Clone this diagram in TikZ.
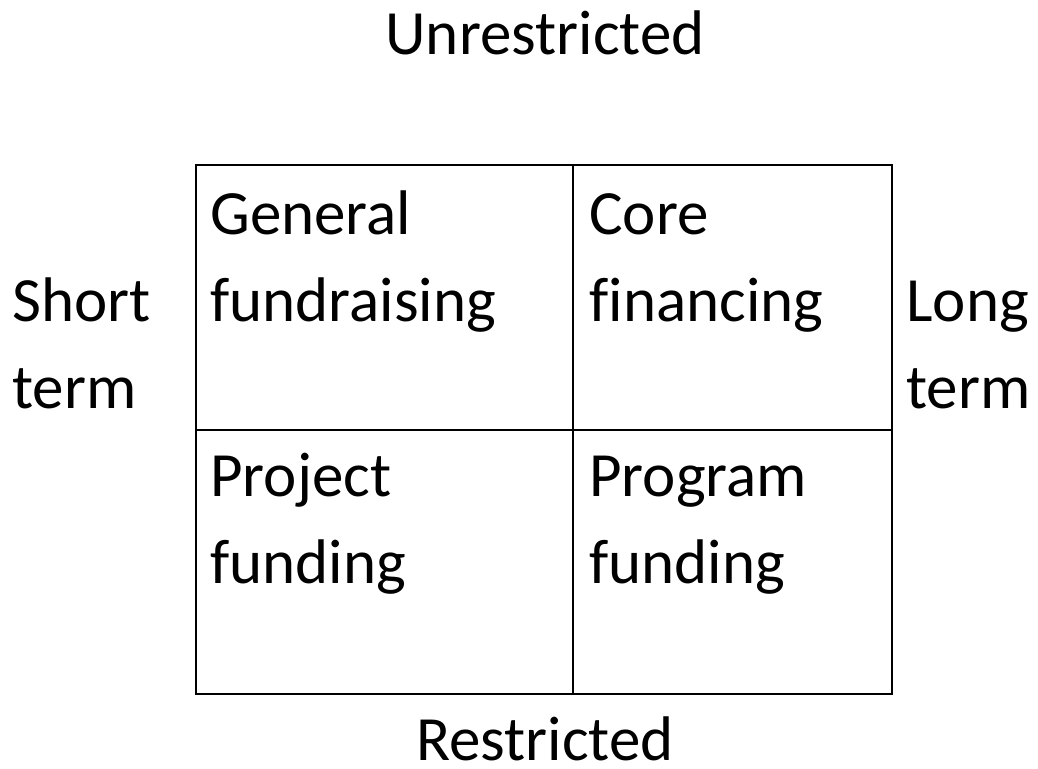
\documentclass[tikz,border=0pt]{standalone}
\usepackage{fontspec}
\setmainfont{Carlito}[Ligatures=NoCommon]
\begin{document}
\begin{tikzpicture}[x=0.5pt, y=-0.5pt,
    txt/.style={inner sep=0pt, anchor=base west, align=left,
      font=\fontsize{31.5}{43.5}\selectfont},
    grid/.style={line width=1pt}]
  \useasboundingbox (0,0) rectangle (1038,768);
  % the four cells
  \draw[grid] (196,165) rectangle (892,694);
  \draw[grid] (573,165) -- (573,694);
  \draw[grid] (196,430) -- (892,430);
  % axis labels
  \node[txt, anchor=base] (unres) at (545,54) {Unrestricted};
  \node[txt, anchor=base] (res) at (545,760) {Restricted};
  \node[txt] (short) at (12,408) {Short\\term};
  \node[txt] (long) at (906,408) {Long\\term};
  % cell texts
  \node[txt] (general) at (210,321) {General\\fundraising};
  \node[txt] (core) at (589,321) {Core\\financing};
  \node[txt] (project) at (210,583) {Project\\funding};
  \node[txt] (program) at (589,583) {Program\\funding};
\end{tikzpicture}
\end{document}
